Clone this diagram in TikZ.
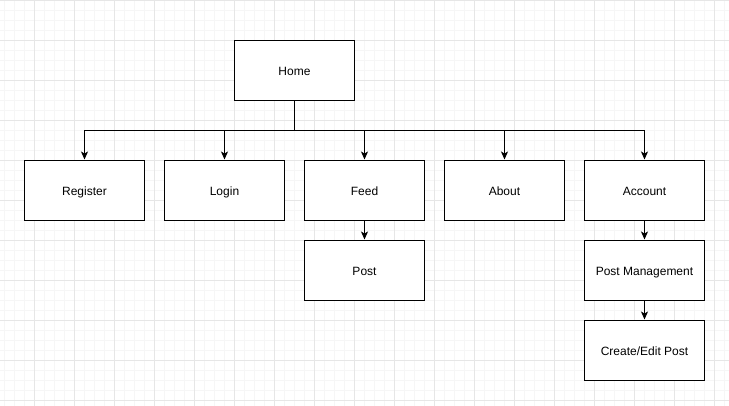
\documentclass[tikz,border=0pt]{standalone}
\usepackage{fontspec}
\setmainfont{Liberation Sans}
\usetikzlibrary{arrows.meta}
\definecolor{gridminor}{HTML}{F6F6F6}
\definecolor{gridmajor}{HTML}{E6E6E6}

\begin{document}
\begin{tikzpicture}[x=1pt,y=1pt,
    page/.style={draw,line width=1pt,fill=white,minimum width=120pt,minimum height=60pt,inner sep=0pt,text height=10.6pt,text depth=0pt,font=\fontsize{12}{14}\selectfont},
    link/.style={line width=1pt,-{Stealth[length=8pt,width=7pt,inset=2pt]}}]
          \useasboundingbox (0,0) rectangle (729,-405);
          \fill[white] (0,0) rectangle (729,-405);
          \draw[gridminor,line width=.8pt,shift={(4.5,-0.5)},step=10pt] (-10,-410) grid (730,10);
          \draw[gridmajor,line width=.8pt,shift={(34.5,-0.5)},step=40pt] (-40,-410) grid (730,10);
          \node[page] (home) at (294.5,-70) {Home};
          \node[page] (register) at (84.5,-190) {Register};
          \node[page] (login) at (224.5,-190) {Login};
          \node[page] (feed) at (364.5,-190) {Feed};
          \node[page] (about) at (504.5,-190) {About};
          \node[page] (account) at (644.5,-190) {Account};
          \node[page] (post) at (364.5,-270) {Post};              % under Feed
          \node[page] (postmgmt) at (644.5,-270) {Post Management}; % under Account
          \node[page] (editpost) at (644.5,-350) {Create/Edit Post};
          \coordinate (bus) at (294.5,-130);
          \draw[line width=1pt] (home.south) -- (bus);
          \foreach \p in {register,login,feed,about,account}
            \draw[link] (bus) -| (\p.north);
          \draw[link] (feed) -- (post);
          \draw[link] (account) -- (postmgmt);
          \draw[link] (postmgmt) -- (editpost);
        \end{tikzpicture}
\end{document}
